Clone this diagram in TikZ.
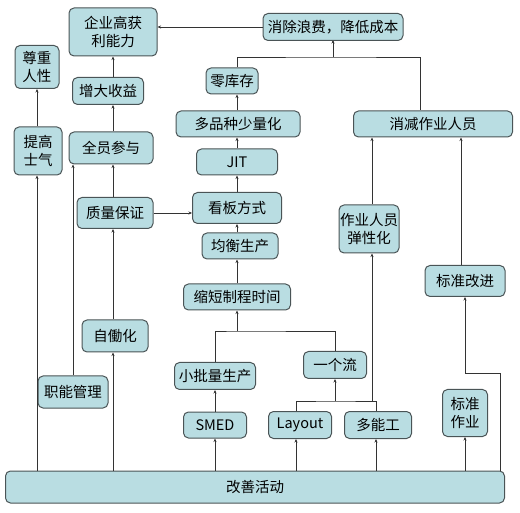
\documentclass[tikz,border=0pt]{standalone}
\usepackage{fontspec}
\newfontfamily\cjk{Noto Sans CJK SC}
\usepackage{tikz}
\usetikzlibrary{arrows.meta}
\tikzset{>=stealth}
\definecolor{boxfill}{HTML}{B9DDE2}
\definecolor{boxline}{HTML}{4A5456}

\begin{document}
\begin{tikzpicture}[x=1pt,y=-1pt,
		box/.style={draw=boxline,fill=boxfill,line width=1pt,rounded corners=5pt,inner sep=0pt,align=center,font=\cjk\fontsize{14.5}{18}\selectfont},
		arr/.style={-{Stealth[length=3.5pt,width=3pt]},line width=0.7pt,draw=black!80}]
			\useasboundingbox (0,0) rectangle (520,513);
			\draw[arr] (333,57) coordinate (topjoin) -- (333,40);
			\coordinate (midjoin) at (237,331);
			\coordinate (lowjoin) at (335,401);
			\coordinate (stdjoin) at (500,373);
			\node[box,minimum width=88,minimum height=48] (profit) at (113,32) {企业高获\\利能力};
			\node[box,minimum width=44,minimum height=43] (respect) at (37,67) {尊重\\人性};
			\node[box,minimum width=71,minimum height=27] (revenue) at (108,91) {增大收益};
			\node[box,minimum width=48,minimum height=48] (morale) at (38,151) {提高\\士气};
			\node[box,minimum width=84,minimum height=32] (allin) at (111,148) {全员参与};
			\node[box,minimum width=76,minimum height=31] (quality) at (115,213) {质量保证};
			\node[box,minimum width=140,minimum height=27] (waste) at (333,27) {消除浪费，降低成本};
			\node[box,minimum width=52,minimum height=26] (zeroinv) at (232,81) {零库存};
			\node[box,minimum width=124,minimum height=26] (variety) at (238,124) {多品种少量化};
			\node[box,minimum width=159,minimum height=26] (cutstaff) at (433,124) {消减作业人员};
			\node[box,minimum width=81,minimum height=26] (jit) at (237,162) {JIT};
			\node[box,minimum width=89,minimum height=31] (kanban) at (237,208) {看板方式};
			\node[box,minimum width=76,minimum height=26] (level) at (240,246) {均衡生产};
			\node[box,minimum width=60,minimum height=48] (flex) at (369,229) {作业人员\\弹性化};
			\node[box,minimum width=107,minimum height=26] (leadtime) at (237,297) {缩短制程时间};
			\node[box,minimum width=80,minimum height=31] (stdimp) at (465,281) {标准改进};
			\node[box,minimum width=66,minimum height=32] (jidoka) at (115,336) {自働化};
			\node[box,minimum width=63,minimum height=27] (flow) at (335,365) {一个流};
			\node[box,minimum width=81,minimum height=27] (smallbatch) at (215,376) {小批量生产};
			\node[box,minimum width=70,minimum height=32] (funcmgmt) at (73,392) {职能管理};
			\node[box,minimum width=63,minimum height=26] (smed) at (215,425) {SMED};
			\node[box,minimum width=63,minimum height=27] (layout) at (300,425) {Layout};
			\node[box,minimum width=67,minimum height=27] (multi) at (378,425) {多能工};
			\node[box,minimum width=45,minimum height=47] (stdwork) at (465,413) {标准\\作业};
			\node[box,minimum width=499,minimum height=32] (kaizen) at (255,487) {改善活动};
			% left columns
			\draw[arr] (morale.north -| respect) -- (respect.south);
			\draw[arr] (kaizen.north -| respect) -- (morale.south -| respect);
			\draw[arr] (revenue.north -| profit) -- (profit.south);
			\draw[arr] (allin.north -| profit) -- (revenue.south -| profit);
			\draw[arr] (quality.north -| profit) -- (allin.south -| profit);
			\draw[arr] (jidoka.north -| profit) -- (quality.south -| profit);
			\draw[arr] (kaizen.north -| profit) -- (jidoka.south -| profit);
			\draw[arr] (funcmgmt.north) -- (funcmgmt.north |- allin.south);
			\draw[arr] (quality.east) -- (quality.east -| kanban.west);
			\draw[arr] (waste.west) -- (waste.west -| profit.east);
			% middle column
			\draw[line width=0.7pt,draw=black!80] (zeroinv.north -| jit) |- (topjoin) -| ([xshift=-13pt]cutstaff.north);
			\draw[arr] (variety.north -| jit) -- (zeroinv.south -| jit);
			\draw[arr] (jit.north) -- (variety.south -| jit);
			\draw[arr] (kanban.north) -- (jit.south);
			\draw[arr] (level.north -| jit) -- (kanban.south);
			\draw[arr] (leadtime.north) -- (level.south -| jit);
			\draw[line width=0.7pt,draw=black!80] (smallbatch.north) |- (midjoin) -| (flow.north);
			\draw[arr] (midjoin) -- (leadtime.south);
			\draw[arr] (smed.north) -- (smallbatch.south);
			\draw[arr] (kaizen.north -| smed) -- (smed.south);
			\draw[line width=0.7pt,draw=black!80] ([xshift=-4pt]layout.north) |- (lowjoin) -| ([xshift=-2pt]multi.north);
			\draw[arr] (lowjoin) -- (flow.south);
			\draw[arr] ([xshift=-4pt]layout.south |- kaizen.north) -- ([xshift=-4pt]layout.south);
			\draw[arr] ([xshift=-2pt]multi.south |- kaizen.north) -- ([xshift=-2pt]multi.south);
			\draw[arr] ([xshift=3pt]flex.south |- lowjoin) -- ([xshift=3pt]flex.south);
			% right column
			\draw[arr] ([xshift=3pt]flex.north) -- ([xshift=3pt]flex.north |- cutstaff.south);
			\draw[arr] ([xshift=-4pt]stdimp.north) -- ([xshift=-4pt]stdimp.north |- cutstaff.south);
			\draw[arr] (kaizen.north -| stdjoin) -- (stdjoin) -- (stdjoin -| stdimp) -- (stdimp.south);
			\draw[arr] (kaizen.north -| stdwork) -- (stdwork.south);
		\end{tikzpicture}
\end{document}
